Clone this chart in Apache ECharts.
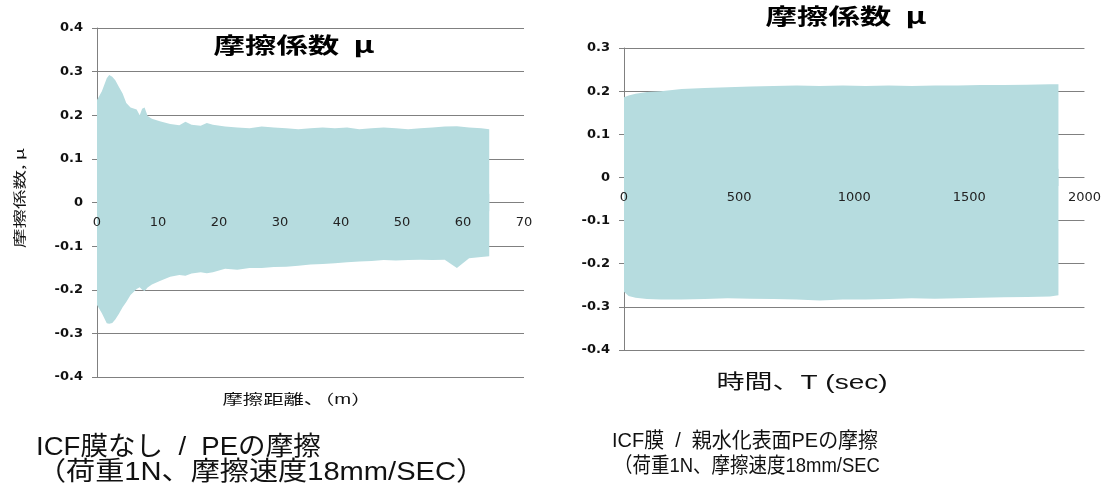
<!DOCTYPE html>
<html>
<head>
<meta charset="utf-8">
<script src="https://cdn.jsdelivr.net/npm/echarts@6/dist/echarts.min.js"></script>
<style>
  html, body { margin: 0; padding: 0; background: #fff; }
  #chart { width: 1104px; height: 484px; }
</style>
</head>
<body>
<div id="chart"></div>
<script>
// left chart: friction distance (m) vs envelope of friction coefficient
const leftDist = [0, 0.8, 1.6, 2.0, 2.5, 3.0, 3.6, 4.2, 4.8, 5.5, 6.5, 7.0, 7.4, 7.8, 8.3, 9, 10.3, 12, 13.5, 14.5, 15.5, 17, 18, 19, 21, 23, 25, 27, 29, 31, 33, 35, 37, 39, 41, 43, 45, 47, 49, 51, 53, 55, 57, 59, 61, 63, 64.3]
const leftUpper = [0.235, 0.255, 0.285, 0.292, 0.288, 0.28, 0.265, 0.25, 0.228, 0.218, 0.213, 0.2, 0.215, 0.218, 0.198, 0.192, 0.186, 0.18, 0.177, 0.185, 0.178, 0.176, 0.182, 0.178, 0.174, 0.172, 0.17, 0.174, 0.172, 0.17, 0.168, 0.17, 0.172, 0.17, 0.172, 0.168, 0.17, 0.172, 0.17, 0.168, 0.17, 0.172, 0.174, 0.175, 0.172, 0.17, 0.168]
const leftLower = [-0.235, -0.254, -0.277, -0.278, -0.276, -0.268, -0.255, -0.24, -0.228, -0.212, -0.198, -0.194, -0.2, -0.203, -0.195, -0.188, -0.18, -0.17, -0.166, -0.168, -0.163, -0.16, -0.162, -0.16, -0.152, -0.154, -0.15, -0.15, -0.148, -0.147, -0.145, -0.142, -0.141, -0.139, -0.137, -0.135, -0.134, -0.132, -0.133, -0.132, -0.131, -0.132, -0.131, -0.15, -0.128, -0.125, -0.123]

// right chart: time (sec) vs envelope of friction coefficient
const rightTime = [0, 20, 50, 100, 160, 250, 350, 450, 550, 650, 750, 850, 950, 1050, 1150, 1250, 1350, 1450, 1550, 1650, 1750, 1850, 1887]
const rightUpper = [0.186, 0.19, 0.194, 0.198, 0.2, 0.205, 0.207, 0.209, 0.211, 0.212, 0.213, 0.212, 0.213, 0.212, 0.213, 0.212, 0.213, 0.213, 0.214, 0.214, 0.215, 0.216, 0.216]
const rightLower = [-0.265, -0.275, -0.279, -0.282, -0.283, -0.283, -0.282, -0.28, -0.281, -0.282, -0.283, -0.285, -0.283, -0.283, -0.282, -0.28, -0.281, -0.28, -0.279, -0.278, -0.277, -0.276, -0.273]

const fill = '#b6dcdf'
const gridColor = '#808080'
const latinCjk = '"Liberation Sans", "Noto Sans CJK JP", sans-serif'

const chart = echarts.init(document.getElementById('chart'))

function yAxisOf(gridIndex, min, max) {
  return {
    type: 'value',
    gridIndex,
    min,
    max,
    interval: 0.1,
    axisLine: { show: true, onZero: false, lineStyle: { color: gridColor } },
    axisTick: { show: true, length: 5, lineStyle: { color: gridColor } },
    axisLabel: {
      margin: 14,
      color: '#111',
      fontWeight: 'bold',
      fontSize: 13,
      fontFamily: 'DejaVu Sans',
      formatter: v => Math.abs(v) < 1e-9 ? '0' : v.toFixed(1)
    },
    splitLine: { show: true, lineStyle: { color: gridColor, width: 1 } }
  }
}

// labels sit on the zero line, which is drawn by the y split lines underneath the fill
function xAxisOf(gridIndex, max, interval, offset) {
  return {
    type: 'value',
    gridIndex,
    position: 'bottom',
    offset,
    min: 0,
    max,
    interval,
    z: 5,
    axisLine: { show: false, onZero: false },
    axisTick: { show: false },
    splitLine: { show: false },
    axisLabel: {
      margin: 14,
      color: '#222',
      fontSize: 13,
      fontFamily: 'DejaVu Sans',
      formatter: v => String(v)
    }
  }
}

function band(idx, xs, ys, origin) {
  return {
    type: 'line',
    xAxisIndex: idx,
    yAxisIndex: idx,
    data: xs.map((x, i) => [x, ys[i]]),
    showSymbol: false,
    silent: true,
    lineStyle: { width: 0, color: fill },
    areaStyle: { color: fill, opacity: 1, origin }
  }
}

const options = {
  animation: false,
  grid: [
    { left: 97, top: 28, width: 427, height: 349 },
    { left: 624, top: 48, width: 461, height: 302 }
  ],
  xAxis: [
    xAxisOf(0, 70, 10, -175),
    xAxisOf(1, 2000, 500, -173)
  ],
  yAxis: [
    yAxisOf(0, -0.4, 0.4),
    yAxisOf(1, -0.4, 0.3)
  ],
  series: [
    band(0, leftDist, leftUpper, -0.02),
    band(0, leftDist, leftLower, 0.02),
    band(1, rightTime, rightUpper, -0.02),
    band(1, rightTime, rightLower, 0.02)
  ],
  graphic: [
    // chart titles
    { type: 'text', x: 294, y: 45, scaleX: 1.43, z: 10,
      style: { text: '摩擦係数  μ', font: 'bold 22px "Noto Sans CJK JP"', fill: '#000', textAlign: 'center', textVerticalAlign: 'middle' } },
    { type: 'text', x: 846, y: 16, scaleX: 1.43, z: 10,
      style: { text: '摩擦係数  μ', font: 'bold 22px "Noto Sans CJK JP"', fill: '#000', textAlign: 'center', textVerticalAlign: 'middle' } },
    // y axis name (left)
    { type: 'text', x: 19, y: 198, rotation: Math.PI / 2, scaleX: 1.5,
      style: { text: '摩擦係数, μ', font: '13px "Noto Sans CJK JP"', fill: '#111', textAlign: 'center', textVerticalAlign: 'middle' } },
    // x axis names
    { type: 'text', x: 297, y: 400, scaleX: 1.45,
      style: { text: '摩擦距離、（m）', font: '14px ' + latinCjk, fill: '#111', textAlign: 'center', textVerticalAlign: 'middle' } },
    { type: 'text', x: 802, y: 383, scaleX: 1.4,
      style: { text: '時間、T (sec)', font: '20px ' + latinCjk, fill: '#111', textAlign: 'center', textVerticalAlign: 'middle' } },
    // captions
    { type: 'text', x: 36, y: 448, scaleX: 1.06,
      style: { text: 'ICF膜なし  /  PEの摩擦', font: '26px ' + latinCjk, fill: '#111', textVerticalAlign: 'middle' } },
    { type: 'text', x: 37, y: 473, scaleX: 1.12,
      style: { text: '（荷重1N、摩擦速度18mm/SEC）', font: '26px ' + latinCjk, fill: '#111', textVerticalAlign: 'middle' } },
    { type: 'text', x: 612, y: 441, scaleX: 0.95,
      style: { text: 'ICF膜  /  親水化表面PEの摩擦', font: '21px ' + latinCjk, fill: '#111', textVerticalAlign: 'middle' } },
    { type: 'text', x: 614, y: 466, scaleX: 0.88,
      style: { text: '（荷重1N、摩擦速度18mm/SEC', font: '21px ' + latinCjk, fill: '#111', textVerticalAlign: 'middle' } }
  ]
}

chart.setOption(options)
</script>
</body>
</html>
